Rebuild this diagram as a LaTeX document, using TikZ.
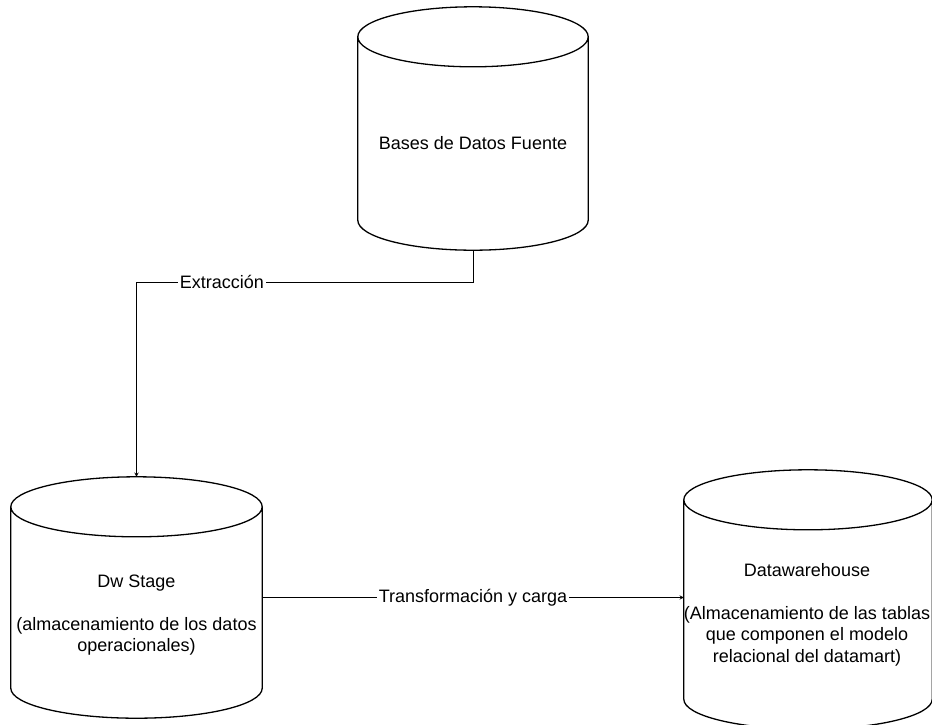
\documentclass[tikz,border=0pt]{standalone}
\usepackage{fontspec}
\setmainfont{Liberation Sans}
\usepackage{tikz}
\usetikzlibrary{arrows, calc}
\tikzstyle{db} = [rectangle, inner sep=0pt, append after command={\pgfextra{\draw[line width=1.3pt] let \p1=(\tikzlastnode.north west), \p2=(\tikzlastnode.south east), \n1={(\x2-\x1)/2} in (\x1,\y1-30pt) -- (\x1,\y2+30pt) arc[start angle=180, end angle=360, x radius=\n1, y radius=30pt] -- (\x2,\y1-30pt) (\x1/2+\x2/2,\y1-30pt) ellipse[x radius=\n1, y radius=30pt];}}]
\tikzstyle{dbtext} = [align=center, inner sep=0pt, font=\fontsize{18}{21.5}\selectfont]
\tikzstyle{lbl} = [fill=white, inner sep=2pt, font=\fontsize{18}{21.5}\selectfont]
\tikzstyle{arrow} = [line width=0.9pt,->,>=stealth]

\begin{document}
\begin{tikzpicture}[x=1pt, y=-1pt]
		\clip (0,0) rectangle (932,724);
		\node (Fuente) [db, minimum width=230pt, minimum height=243pt] at (473,128.5) {};
		\node (Stage) [db, minimum width=251pt, minimum height=241pt] at (136.5,597.5) {};
		\node (Warehouse) [db, minimum width=248pt, minimum height=259pt] at (808,599.5) {};
		
		\node (FuenteText) [dbtext] at ([yshift=-14.5pt]Fuente.center) {Bases de Datos Fuente};
		\node (StageText) [dbtext] at ([yshift=-17.5pt]Stage.center) {Dw Stage\\[21.5pt](almacenamiento de los datos\\operacionales)};
		\node (WarehouseText) [dbtext] at ([xshift=-1pt, yshift=-15pt]Warehouse.center) {Datawarehouse\\[21.5pt](Almacenamiento de las tablas\\que componen el modelo\\relacional del datamart)};
		
		\coordinate (Bend) at (Stage.north |- 0,282);
		\draw [arrow] (Fuente.south) |- node[lbl, pos=0.873]{Extracción} (Bend) -- (Stage.north);
		\draw [arrow] (Stage.east) -- node[lbl]{Transformación y carga} (Stage.east -| Warehouse.west);
\end{tikzpicture}
\end{document}
